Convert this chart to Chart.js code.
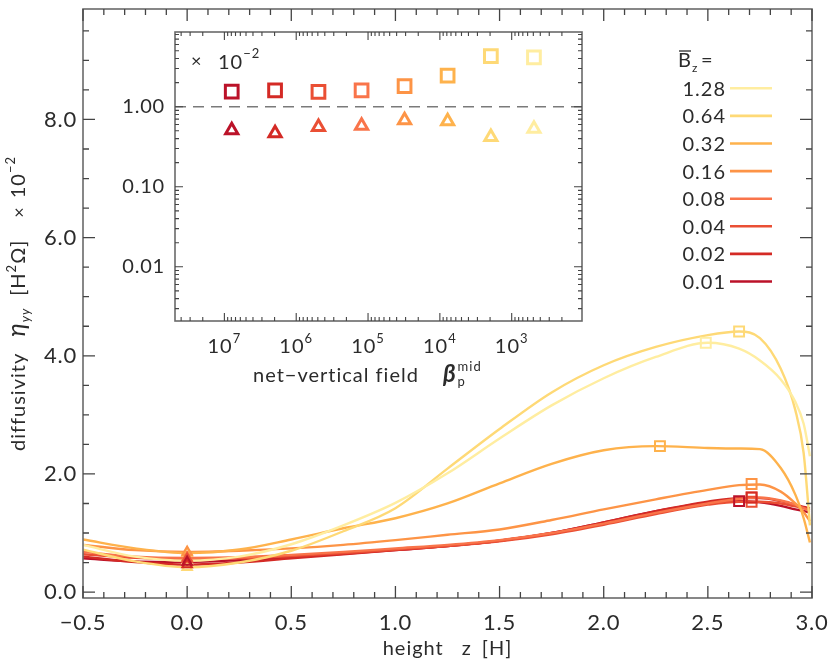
<!DOCTYPE html>
<html>
<head>
<meta charset="utf-8">
<script src="https://cdn.jsdelivr.net/npm/chart.js@4.4.1/dist/chart.umd.min.js"></script>
<style>
  html, body { margin: 0; padding: 0; background: #fff; }
  #wrap { position: relative; width: 830px; height: 664px; }
  #main { position: absolute; left: 0; top: 0; }
  #inset { position: absolute; left: 100px; top: 20px; }
</style>
</head>
<body>
<div id="wrap">
  <canvas id="main" width="830" height="664"></canvas>
  <canvas id="inset" width="500" height="380"></canvas>
</div>
<script>
// field strengths, strongest first (drawn on top)
const fieldLabels = ['1.28', '0.64', '0.32', '0.16', '0.08', '0.04', '0.02', '0.01'];
const lineColors = ['#ffeda0', '#fed976', '#feb24c', '#fd9446', '#f9744a', '#ea4f34', '#d42a25', '#bb1229'];

// vertical profiles eta_yy(z), units 1e-2
const zGrid  = [-0.5, -0.25, 0, 0.25, 0.5, 0.75, 1.0, 1.25, 1.5, 1.75, 2.0, 2.25, 2.5, 2.65, 2.75, 2.85, 2.92, 2.96, 2.99];
const eta128 = [0.80, 0.60, 0.53, 0.60, 0.81, 1.13, 1.51, 2.01, 2.60, 3.16, 3.62, 3.98, 4.22, 4.12, 3.92, 3.60, 3.22, 2.85, 2.30];
const eta064 = [0.72, 0.52, 0.42, 0.50, 0.70, 1.03, 1.42, 2.09, 2.76, 3.38, 3.84, 4.15, 4.35, 4.41, 4.30, 3.78, 3.08, 2.35, 1.13];
const eta032 = [0.89, 0.74, 0.66, 0.72, 0.89, 1.08, 1.25, 1.50, 1.84, 2.17, 2.40, 2.47, 2.44, 2.43, 2.42, 2.10, 1.65, 1.25, 0.84];
const eta016 = [0.80, 0.71, 0.68, 0.70, 0.74, 0.80, 0.88, 0.97, 1.06, 1.22, 1.40, 1.57, 1.73, 1.81, 1.82, 1.70, 1.50, 1.35, 1.20];
const eta008 = [0.68, 0.60, 0.58, 0.59, 0.63, 0.68, 0.74, 0.80, 0.88, 1.00, 1.16, 1.34, 1.50, 1.58, 1.60, 1.55, 1.48, 1.42, 1.38];
const eta004 = [0.64, 0.58, 0.56, 0.57, 0.61, 0.66, 0.72, 0.78, 0.86, 0.98, 1.14, 1.32, 1.48, 1.53, 1.53, 1.50, 1.45, 1.42, 1.40];
const eta002 = [0.60, 0.51, 0.465, 0.50, 0.57, 0.64, 0.71, 0.78, 0.87, 1.00, 1.18, 1.37, 1.53, 1.59, 1.59, 1.54, 1.48, 1.44, 1.42];
const eta001 = [0.57, 0.52, 0.51, 0.54, 0.59, 0.65, 0.71, 0.78, 0.87, 1.00, 1.18, 1.37, 1.51, 1.54, 1.52, 1.46, 1.40, 1.37, 1.35];
const etaSeries = [eta128, eta064, eta032, eta016, eta008, eta004, eta002, eta001];

// markers: profile maximum (squares) and midplane value (triangles)
const peakZ   = [2.49, 2.65, 2.27, 2.71, 2.71, 2.71, 2.71, 2.65];
const peakEta = [4.22, 4.41, 2.47, 1.83, 1.60, 1.53, 1.60, 1.54];
const midEta  = [0.53, 0.42, 0.66, 0.68, 0.58, 0.56, 0.465, 0.51];

// inset: vs. midplane plasma beta
const betaMid  = [4.9e2, 1.95e3, 7.8e3, 3.1e4, 1.23e5, 4.9e5, 1.97e6, 7.9e6];
const insetMax = [4.14, 4.30, 2.44, 1.81, 1.60, 1.53, 1.60, 1.54];
const insetMid = [0.53, 0.42, 0.66, 0.68, 0.58, 0.56, 0.465, 0.51];

const xTicks = [-0.5, 0, 0.5, 1.0, 1.5, 2.0, 2.5, 3.0];
const yTicks = [0, 2, 4, 6, 8];
const insetYTicks = [0.01, 0.1, 1];
const insetYLabels = ['0.01', '0.10', '1.00'];
const insetXExp = [7, 6, 5, 4, 3];

const FONT = 'Lato, "DejaVu Sans", sans-serif';
const INK = '#2b2b2b';
Chart.defaults.font.family = FONT;
Chart.defaults.color = INK;

function richText(ctx, parts, x, y, align) {
  let w = 0;
  for (const p of parts) {
    ctx.font = (p.st || '') + ' ' + p.s + 'px ' + FONT;
    w += ctx.measureText(p.t).width + (p.g || 0);
  }
  let cx = align === 'center' ? x - w / 2 : x;
  ctx.textAlign = 'left';
  for (const p of parts) {
    ctx.font = (p.st || '') + ' ' + p.s + 'px ' + FONT;
    ctx.fillText(p.t, cx, y + (p.dy || 0));
    cx += ctx.measureText(p.t).width + (p.g || 0);
  }
}

// drop the half-label padding chart.js adds so the plot box sits where we put it
function noPad(s) {
  s.paddingTop = 0; s.paddingBottom = 0; s.paddingLeft = 0; s.paddingRight = 0;
}

const spacing = {
  id: 'spacing',
  beforeDraw(chart) { chart.ctx.letterSpacing = '0.8px'; }
};

const mainFrame = {
  id: 'mainFrame',
  afterDraw(chart) {
    const { ctx, chartArea: a, scales: { x, y } } = chart;
    ctx.save();
    ctx.strokeStyle = '#6a6a6a';
    ctx.lineWidth = 1.6;
    ctx.strokeRect(a.left, a.top, a.right - a.left, a.bottom - a.top);

    // inward ticks on all four sides
    ctx.strokeStyle = '#444';
    ctx.lineWidth = 1.3;
    ctx.beginPath();
    for (let k = -5; k <= 30; k++) {
      const px = x.getPixelForValue(k / 10);
      const L = (k % 5 === 0) ? 12 : 6;
      ctx.moveTo(px, a.bottom); ctx.lineTo(px, a.bottom - L);
      ctx.moveTo(px, a.top); ctx.lineTo(px, a.top + L);
    }
    for (let k = 0; k * 0.5 < y.max; k++) {
      const py = y.getPixelForValue(k * 0.5);
      const L = (k % 4 === 0) ? 12 : 6;
      ctx.moveTo(a.left, py); ctx.lineTo(a.left + L, py);
      ctx.moveTo(a.right, py); ctx.lineTo(a.right - L, py);
    }
    ctx.stroke();

    ctx.fillStyle = INK;
    ctx.textBaseline = 'alphabetic';
    ctx.letterSpacing = '1px';

    // x title
    richText(ctx, [
      { t: 'height', s: 20, g: 18 },
      { t: 'z', s: 20, g: 10 },
      { t: '[H]', s: 20 }
    ], (a.left + a.right) / 2, 655, 'center');

    // y title (rotated)
    ctx.save();
    ctx.translate(18, (a.top + a.bottom) / 2);
    ctx.rotate(-Math.PI / 2);
    richText(ctx, [
      { t: 'diffusivity', s: 20, g: 16 },
      { t: 'η', s: 25, st: 'italic' },
      { t: 'yy', s: 13, st: 'italic', dy: 5, g: 12 },
      { t: '[H', s: 20 },
      { t: '2', s: 13, dy: -9 },
      { t: 'Ω]', s: 20, g: 22 },
      { t: '×', s: 18, g: 8 },
      { t: '10', s: 20 },
      { t: '−2', s: 13, dy: -10 }
    ], 0, 7, 'center');
    ctx.restore();

    // legend
    ctx.font = '20px ' + FONT;
    ctx.textAlign = 'left';
    ctx.fillText('B', 678, 67);
    ctx.strokeStyle = INK;
    ctx.lineWidth = 1.3;
    ctx.beginPath(); ctx.moveTo(679, 51); ctx.lineTo(691, 51); ctx.stroke();
    ctx.font = '12px ' + FONT;
    ctx.fillText('z', 692, 72);
    ctx.font = '20px ' + FONT;
    ctx.fillText('=', 701, 67);

    ctx.textAlign = 'right';
    ctx.textBaseline = 'middle';
    ctx.font = '20px ' + FONT;
    fieldLabels.forEach((lab, i) => {
      const yy = 88.3 + i * 27.6;
      ctx.fillText(lab, 726, yy + 1);
      ctx.strokeStyle = lineColors[i];
      ctx.lineWidth = 2.6;
      ctx.beginPath(); ctx.moveTo(730, yy); ctx.lineTo(772, yy); ctx.stroke();
    });
    ctx.restore();
  }
};

const curveSets = etaSeries.map((vals, i) => ({
  label: fieldLabels[i],
  data: zGrid.map((z, k) => ({ x: z, y: vals[k] })),
  borderColor: lineColors[i],
  borderWidth: 2.4,
  pointRadius: 0,
  cubicInterpolationMode: 'monotone',
  fill: false,
  order: 1
}));

const squareSet = {
  label: 'max',
  data: peakZ.map((z, i) => ({ x: z, y: peakEta[i] })),
  showLine: false,
  pointStyle: 'rect',
  pointRadius: 7,
  pointBorderWidth: 2,
  pointBorderColor: lineColors,
  pointBackgroundColor: 'rgba(0,0,0,0)',
  order: 0
};

const triangleSet = {
  label: 'mid',
  data: midEta.map(v => ({ x: 0, y: v })),
  showLine: false,
  pointStyle: 'triangle',
  pointRadius: 5.5,
  pointBorderWidth: 2,
  pointBorderColor: lineColors,
  pointBackgroundColor: 'rgba(0,0,0,0)',
  order: 0
};

new Chart(document.getElementById('main'), {
  type: 'line',
  data: { datasets: [squareSet, triangleSet, ...curveSets] },
  options: {
    responsive: false,
    animation: false,
    devicePixelRatio: 1,
    layout: { padding: { top: 2, right: 18, left: 0, bottom: 0 } },
    plugins: { legend: { display: false }, tooltip: { enabled: false } },
    scales: {
      x: {
        type: 'linear',
        min: -0.5, max: 3.0,
        grid: { display: false, drawTicks: false },
        border: { display: false },
        afterBuildTicks: s => { s.ticks = xTicks.map(v => ({ value: v })); },
        afterFit: s => { s.height = 66; noPad(s); },
        ticks: {
          padding: 12,
          font: { size: 22 },
          color: INK,
          maxRotation: 0,
          callback: v => (v < 0 ? '−' : '') + Math.abs(v).toFixed(1)
        }
      },
      y: {
        type: 'linear',
        min: -0.1, max: 9.87,
        grid: { display: false, drawTicks: false },
        border: { display: false },
        afterBuildTicks: s => { s.ticks = yTicks.map(v => ({ value: v })); },
        afterFit: s => { s.width = 83; noPad(s); },
        ticks: {
          padding: 6,
          font: { size: 22 },
          color: INK,
          callback: v => v.toFixed(1)
        }
      }
    }
  },
  plugins: [spacing, mainFrame]
});

// ---------- inset ----------
const insetFrame = {
  id: 'insetFrame',
  beforeDraw(chart) {
    const { ctx, chartArea: a } = chart;
    ctx.save();
    ctx.fillStyle = '#fff';
    ctx.fillRect(a.left, a.top, a.right - a.left, a.bottom - a.top);
    ctx.restore();
  },
  beforeDatasetsDraw(chart) {
    const { ctx, chartArea: a, scales: { y } } = chart;
    const py = y.getPixelForValue(1);
    ctx.save();
    ctx.strokeStyle = '#7a7a7a';
    ctx.lineWidth = 1.5;
    ctx.setLineDash([11, 7]);
    ctx.beginPath(); ctx.moveTo(a.left, py); ctx.lineTo(a.right, py); ctx.stroke();
    ctx.restore();
  },
  afterDraw(chart) {
    const { ctx, chartArea: a, scales: { x, y } } = chart;
    ctx.save();
    ctx.strokeStyle = '#6a6a6a';
    ctx.lineWidth = 1.6;
    ctx.strokeRect(a.left, a.top, a.right - a.left, a.bottom - a.top);

    ctx.strokeStyle = '#444';
    ctx.lineWidth = 1.1;
    ctx.beginPath();
    for (let e = 1; e <= 8; e++) {
      for (let m = 1; m <= 9; m++) {
        const v = m * Math.pow(10, e);
        if (v < x.min || v > x.max) continue;
        const px = x.getPixelForValue(v);
        const L = m === 1 ? 8 : 4;
        ctx.moveTo(px, a.bottom); ctx.lineTo(px, a.bottom - L);
        ctx.moveTo(px, a.top); ctx.lineTo(px, a.top + L);
      }
    }
    for (let e = -3; e <= 0; e++) {
      for (let m = 1; m <= 9; m++) {
        const v = m * Math.pow(10, e);
        if (v < y.min || v > y.max) continue;
        const py = y.getPixelForValue(v);
        const L = m === 1 ? 8 : 4;
        ctx.moveTo(a.left, py); ctx.lineTo(a.left + L, py);
        ctx.moveTo(a.right, py); ctx.lineTo(a.right - L, py);
      }
    }
    ctx.stroke();

    ctx.fillStyle = INK;
    ctx.textBaseline = 'alphabetic';
    ctx.letterSpacing = '1px';

    // x tick labels 10^n
    insetXExp.forEach(n => {
      const px = x.getPixelForValue(Math.pow(10, n));
      richText(ctx, [
        { t: '10', s: 20 },
        { t: String(n), s: 13, dy: -10 }
      ], px, a.bottom + 32, 'center');
    });

    // x title
    ctx.font = '20px ' + FONT;
    const t0 = 'net−vertical field';
    const x0 = 153;
    const by = a.bottom + 61;
    ctx.textAlign = 'left';
    ctx.fillText(t0, x0, by);
    const bx = x0 + ctx.measureText(t0).width + 24;
    ctx.font = 'italic bold 24px ' + FONT;
    ctx.fillText('β', bx, by);
    const sx = bx + ctx.measureText('β').width + 1;
    ctx.font = '13px ' + FONT;
    ctx.fillText('p', sx, by + 4);
    ctx.fillText('mid', sx, by - 11);

    // scale factor
    ctx.font = '18px ' + FONT;
    ctx.fillText('×', 91, 47);
    richText(ctx, [
      { t: '10', s: 20 },
      { t: '−2', s: 13, dy: -11 }
    ], 118, 49, 'left');
    ctx.restore();
  }
};

new Chart(document.getElementById('inset'), {
  type: 'scatter',
  data: {
    datasets: [
      {
        label: 'max',
        data: betaMid.map((b, i) => ({ x: b, y: insetMax[i] })),
        pointStyle: 'rect',
        pointRadius: 9,
        pointBorderWidth: 3,
        pointBorderColor: lineColors,
        pointBackgroundColor: '#fff'
      },
      {
        label: 'mid',
        data: betaMid.map((b, i) => ({ x: b, y: insetMid[i] })),
        pointStyle: 'triangle',
        pointRadius: 7,
        pointBorderWidth: 3,
        pointBorderColor: lineColors,
        pointBackgroundColor: '#fff'
      }
    ]
  },
  options: {
    responsive: false,
    animation: false,
    devicePixelRatio: 1,
    layout: { padding: { top: 12, right: 18, left: 0, bottom: 0 } },
    plugins: { legend: { display: false }, tooltip: { enabled: false } },
    scales: {
      x: {
        type: 'logarithmic',
        reverse: true,
        min: 105, max: 4.87e7,
        grid: { display: false, drawTicks: false },
        border: { display: false },
        ticks: { display: false },
        afterFit: s => { s.height = 79; noPad(s); }
      },
      y: {
        type: 'logarithmic',
        min: 0.0021, max: 8.59,
        grid: { display: false, drawTicks: false },
        border: { display: false },
        afterBuildTicks: s => { s.ticks = insetYTicks.map(v => ({ value: v })); },
        afterFit: s => { s.width = 75; noPad(s); },
        ticks: {
          padding: 10,
          font: { size: 20 },
          color: INK,
          callback: v => insetYLabels[insetYTicks.indexOf(v)]
        }
      }
    }
  },
  plugins: [spacing, insetFrame]
});
</script>
</body>
</html>
